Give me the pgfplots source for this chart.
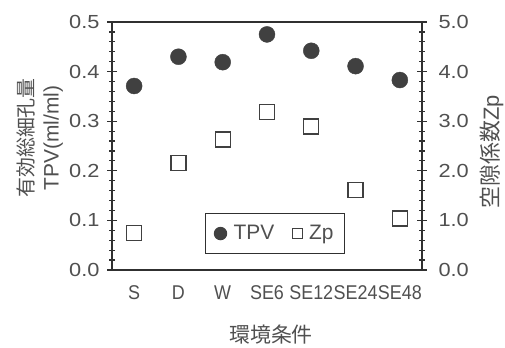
\documentclass[border=0pt]{standalone}
\usepackage{pgfplots}
\pgfplotsset{compat=1.18}
\usepackage{fontspec}
\setmainfont{Liberation Sans}
\newfontfamily\cjk{Noto Sans CJK JP}
\definecolor{txtcol}{HTML}{505050}
\definecolor{mkcol}{HTML}{404040}
\definecolor{axiscol}{HTML}{303030}
\begin{document}
\begin{tikzpicture}
\useasboundingbox (0bp,0bp) rectangle (505bp,348bp);
\begin{axis}[
  at={(112bp,78bp)}, anchor=south west, scale only axis,
  width=310bp, height=248bp, clip=false,
  xmin=-0.5, xmax=6.5, ymin=0, ymax=0.5,
  axis line style={draw=axiscol, line width=1.4bp},
  ytick={0,0.1,0.2,0.3,0.4,0.5}, minor y tick num=4, ytick pos=left,
  ytick align=center,
  major tick length=10bp, minor tick length=6bp,
  major y tick style={draw=axiscol, line width=1.1bp},
  minor y tick style={draw=axiscol, line width=1.1bp},
  xtick={0,1,2,3,4,5,6},
  xticklabels={\scalebox{0.9}[1]{S},\scalebox{0.9}[1]{D},\scalebox{0.9}[1]{W},\scalebox{0.9}[1]{SE6},\scalebox{0.9}[1]{SE12},\scalebox{0.9}[1]{SE24},\scalebox{0.9}[1]{SE48}},
  major x tick style={draw=none},
  xticklabel style={font=\fontsize{20}{20}\selectfont, text=txtcol, yshift=-12bp},
  yticklabel={\scalebox{1.15}[1]{\pgfmathprintnumber[fixed,fixed zerofill,precision=1,assume math mode=true]{\tick}}},
  yticklabel style={font=\fontsize{19}{19}\selectfont, text=txtcol, xshift=-4bp},
]
% major tick marks on both vertical axes
\addplot[only marks, mark=-, mark size=5bp, color=axiscol, mark options={line width=1.2bp}, forget plot] coordinates {
(-0.5,0) (-0.5,0.1) (-0.5,0.2) (-0.5,0.3) (-0.5,0.4) (-0.5,0.5)
(6.5,0) (6.5,0.1) (6.5,0.2) (6.5,0.3) (6.5,0.4) (6.5,0.5)};
% minor tick marks on both vertical axes
\addplot[only marks, mark=-, mark size=3bp, color=axiscol, mark options={line width=1.2bp}, forget plot] coordinates {
(-0.5,0.02) (-0.5,0.04) (-0.5,0.06) (-0.5,0.08)
(-0.5,0.12) (-0.5,0.14) (-0.5,0.16) (-0.5,0.18)
(-0.5,0.22) (-0.5,0.24) (-0.5,0.26) (-0.5,0.28)
(-0.5,0.32) (-0.5,0.34) (-0.5,0.36) (-0.5,0.38)
(-0.5,0.42) (-0.5,0.44) (-0.5,0.46) (-0.5,0.48)
(6.5,0.02) (6.5,0.04) (6.5,0.06) (6.5,0.08)
(6.5,0.12) (6.5,0.14) (6.5,0.16) (6.5,0.18)
(6.5,0.22) (6.5,0.24) (6.5,0.26) (6.5,0.28)
(6.5,0.32) (6.5,0.34) (6.5,0.36) (6.5,0.38)
(6.5,0.42) (6.5,0.44) (6.5,0.46) (6.5,0.48)};
\addplot[only marks, mark=*, mark size=8bp, color=mkcol, forget plot] coordinates {
(0,0.371) (1,0.430) (2,0.419) (3,0.475) (4,0.442) (5,0.411) (6,0.383)};
\end{axis}
\begin{axis}[
  at={(112bp,78bp)}, anchor=south west, scale only axis,
  width=310bp, height=248bp,
  xmin=-0.5, xmax=6.5, ymin=0, ymax=5,
  axis y line*=right, axis x line=none,
  axis line style={draw=axiscol, line width=1.4bp},
  ytick={0,1,2,3,4,5}, minor y tick num=4,
  ytick align=center,
  major tick length=10bp, minor tick length=6bp,
  major y tick style={draw=axiscol, line width=1.1bp},
  minor y tick style={draw=axiscol, line width=1.1bp},
  yticklabel={\scalebox{1.15}[1]{\pgfmathprintnumber[fixed,fixed zerofill,precision=1,assume math mode=true]{\tick}}},
  yticklabel style={font=\fontsize{19}{19}\selectfont, text=txtcol, xshift=8bp},
  legend columns=2,
  legend style={at={(0.526,0.147)}, anchor=center, draw=axiscol, line width=1.4bp,
    font=\fontsize{21}{21}\selectfont, text=txtcol,
    inner xsep=9bp, inner ysep=10bp,
    /tikz/every odd column/.append style={column sep=5bp},
    /tikz/every even column/.append style={column sep=16bp}},
]
\addplot[only marks, mark=square*, mark size=7.5bp, color=mkcol, fill=white, line width=1.4bp, mark options={fill=white}, forget plot] coordinates {
(0,0.74) (1,2.16) (2,2.63) (3,3.19) (4,2.89) (5,1.61) (6,1.04)};
\addlegendimage{only marks, mark=*, mark size=6bp, color=mkcol}
\addlegendentry{TPV}
\addlegendimage{only marks, mark=square*, mark size=5bp, color=mkcol, mark options={fill=white}, line width=1.1bp}
\addlegendentry{Zp}
\end{axis}
\node[rotate=90, align=center, text=txtcol, font=\fontsize{21}{25}\selectfont] at (40bp,210bp)
  {{\cjk\fontsize{20}{25}\selectfont 有効総細孔量}\\TPV(ml/ml)};
\node[rotate=90, text=txtcol, font=\fontsize{22}{22}\selectfont] at (492bp,196bp) {{\cjk 空隙係数}Zp};
\node[text=txtcol, font=\cjk\fontsize{21}{21}\selectfont] at (271bp,13bp) {環境条件};
\end{tikzpicture}
\end{document}
